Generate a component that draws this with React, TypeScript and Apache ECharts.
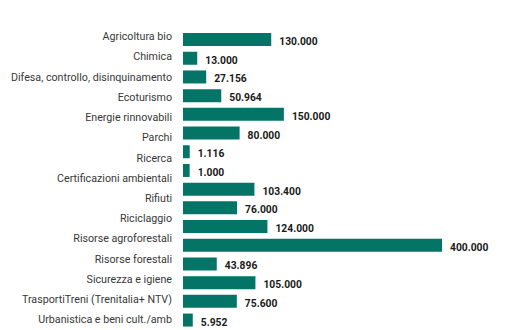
import React, { useEffect, useRef } from "react";
import * as echarts from "echarts";

const categories = [
  "Agricoltura bio",
  "Chimica",
  "Difesa, controllo, disinquinamento",
  "Ecoturismo",
  "Energie rinnovabili",
  "Parchi",
  "Ricerca",
  "Certificazioni ambientali",
  "Rifiuti",
  "Riciclaggio",
  "Risorse agroforestali",
  "Risorse forestali",
  "Sicurezza e igiene",
  "TrasportiTreni (Trenitalia+ NTV)",
  "Urbanistica e beni cult./amb",
];

const values = [
  130000, 13000, 27156, 50964, 150000, 80000, 1116, 1000, 103400, 76000,
  124000, 400000, 43896, 105000, 75600, 5952,
];

const fmt = (v: number) => {
  const s = String(Math.round(v));
  return s.replace(/\B(?=(\d{3})+(?!\d))/g, ".");
};

export default function App() {
  const ref = useRef<HTMLDivElement>(null);
  useEffect(() => {
    if (!ref.current) return;
    const chart = echarts.init(ref.current, undefined, { renderer: "svg" });
    const font = "Roboto";
    chart.setOption({
      animation: false,
      backgroundColor: "#ffffff",
      grid: [
        { left: 183, top: 30.2, width: 259, height: 299.2, containLabel: false },
        { left: 183, top: 26.6, width: 259, height: 303.6, containLabel: false },
      ],
      xAxis: [
        {
          type: "value",
          gridIndex: 0,
          min: -9500,
          max: 400000,
          startValue: -9500,
          show: false,
        },
        { type: "value", gridIndex: 1, min: 0, max: 1, show: false },
      ],
      yAxis: [
        {
          type: "category",
          gridIndex: 0,
          inverse: true,
          data: values.map((_, i) => String(i)),
          show: false,
        },
        {
          type: "category",
          gridIndex: 1,
          inverse: true,
          data: categories,
          axisLine: { show: false },
          axisTick: { show: false },
          splitLine: { show: false },
          axisLabel: {
            margin: 11,
            fontFamily: font,
            fontSize: 10.7,
            color: "#383838",
          },
        },
      ],
      series: [
        {
          type: "bar",
          xAxisIndex: 0,
          yAxisIndex: 0,
          data: values,
          barWidth: 13,
          itemStyle: { color: "#037466" },
          label: {
            show: true,
            position: "right",
            distance: 8,
            offset: [0, 2],
            fontFamily: font,
            fontSize: 10.3,
            fontWeight: "bold",
            color: "#1a1a1a",
            formatter: (p: any) => fmt(p.value),
          },
        },
      ],
    });
    return () => chart.dispose();
  }, []);
  return (
    <div
      ref={ref}
      style={{ position: "absolute", left: 0, top: 0, width: 510, height: 330 }}
    />
  );
}
